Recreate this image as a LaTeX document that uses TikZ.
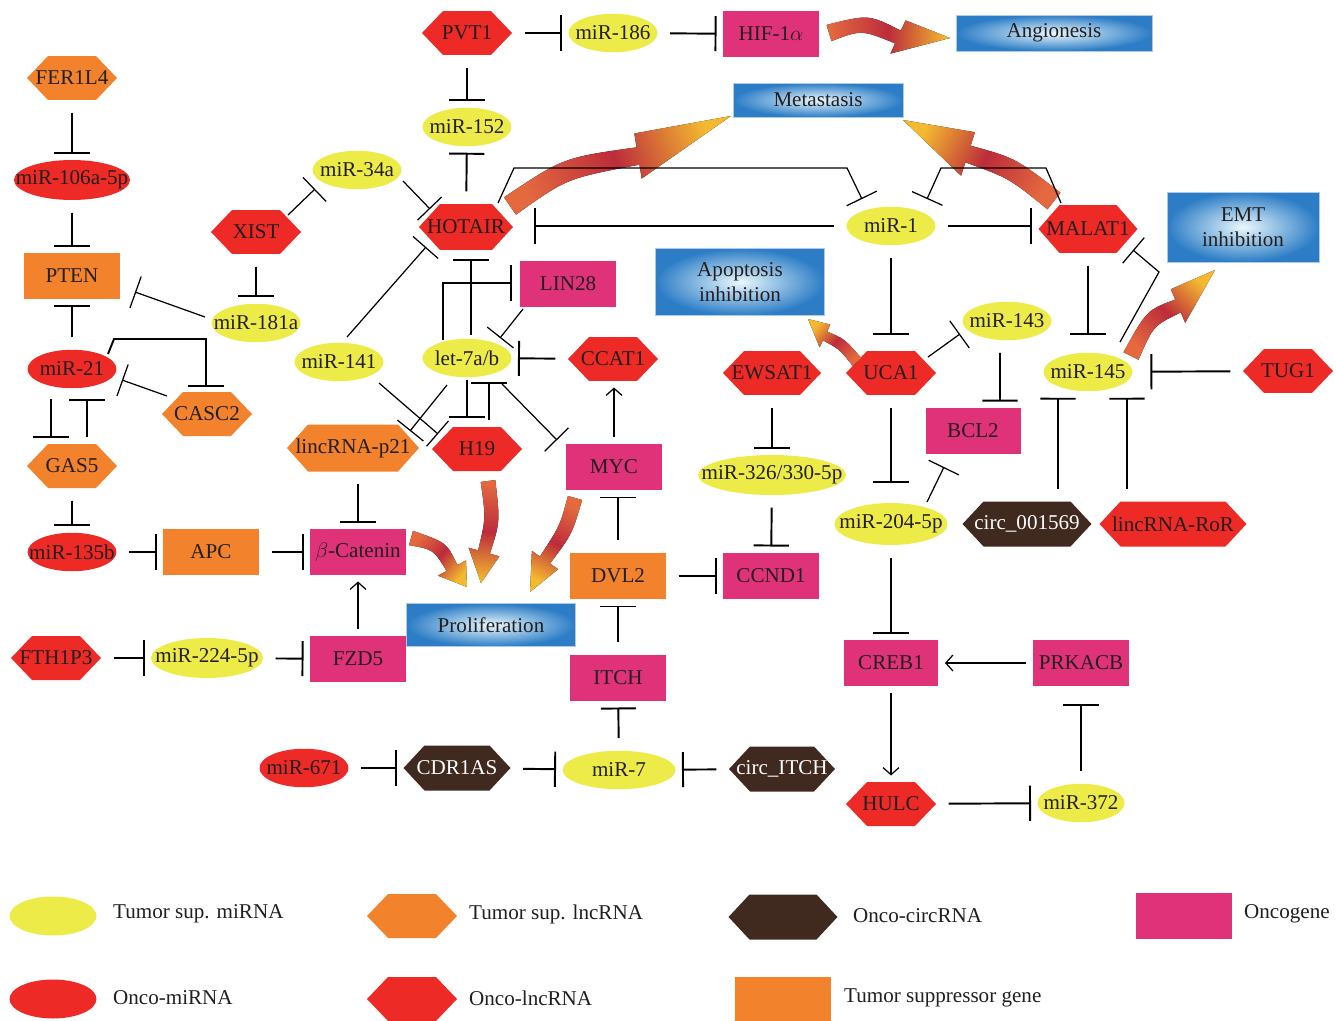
\documentclass[tikz,border=0pt]{standalone}
\usepackage{fontspec}
\setmainfont{Liberation Serif}
\usetikzlibrary{arrows.meta, shapes.geometric, calc}
\definecolor{mirsup}{HTML}{EDEB47}
\definecolor{oncored}{HTML}{EE2A27}
\definecolor{supor}{HTML}{F3822C}
\definecolor{oncomag}{HTML}{DF3278}
\definecolor{circbr}{HTML}{40291E}
\definecolor{inkdark}{HTML}{231F20}
\definecolor{boxhi}{HTML}{EAF8FD}
\definecolor{boxlo}{HTML}{2C7DC6}
\definecolor{swtail}{HTML}{E4693F}
\definecolor{swmid}{HTML}{BC2C3B}
\definecolor{swtip}{HTML}{F4B930}
% tail, control, head base, tip, shading angle, scale
\newcommand{\swooshto}[6]{%
  \fill[swoosh, shading angle=#5]
    ($#1!#6*6pt!90:#2$) .. controls ($#2!#6*6pt!90:#3$) .. ($#3!#6*5pt!-90:#2$)
    -- ($#3!#6*13pt!-90:#2$) -- #4 -- ($#3!#6*13pt!90:#2$)
    -- ($#3!#6*5pt!90:#2$) .. controls ($#2!#6*6pt!-90:#3$) .. ($#1!#6*6pt!-90:#2$)
    -- cycle;}

\begin{document}
\begin{tikzpicture}[
  x=0.02cm, y=-0.02cm,
  font=\fontsize{12}{14}\selectfont, text=inkdark,
  gene/.style={rectangle, inner sep=0pt, minimum width=1.92cm, minimum height=0.92cm},
  mirna/.style={rectangle, inner sep=0pt, minimum width=1.78cm, minimum height=0.77cm,
    path picture={\fill[#1] let \p1=(path picture bounding box.north east),
      \p2=(path picture bounding box.center) in
      (\p2) ellipse [x radius=\x1-\x2, y radius=\y1-\y2];}},
  lnc/.style={rectangle, inner sep=0pt, minimum width=1.8cm, minimum height=0.88cm,
    path picture={\fill[#1] (path picture bounding box.west)
      -- ([xshift=0.42cm]path picture bounding box.north west)
      -- ([xshift=-0.42cm]path picture bounding box.north east)
      -- (path picture bounding box.east)
      -- ([xshift=-0.42cm]path picture bounding box.south east)
      -- ([xshift=0.42cm]path picture bounding box.south west) -- cycle;}},
  tsmir/.style={mirna=mirsup},
  oncomir/.style={mirna=oncored},
  tslnc/.style={lnc=supor},
  oncolnc/.style={lnc=oncored},
  oncocirc/.style={lnc=circbr, text=white},
  oncogene/.style={gene, fill=oncomag},
  tsgene/.style={gene, fill=supor},
  outcome/.style={rectangle, inner color=boxhi, outer color=boxlo,
    draw=boxlo!40, line width=0.4pt, align=center, inner sep=0pt},
  inh/.style={-{Bar[width=20pt]}, line width=1.1pt, shorten <=7pt, shorten >=3.5pt},
  inhx/.style={-{Bar[width=19pt]}, line width=0.7pt},
  act/.style={-{Straight Barb[length=4pt,width=9pt]}, line width=0.7pt,
    shorten <=4pt, shorten >=3.5pt},
  swoosh/.style={top color=swtip, bottom color=swtail, middle color=swmid},
]
  \path[fill=white] (0,0) rectangle (1336,1021);
  \useasboundingbox (0,0) rectangle (1336,1021);

  %% Outcomes
  \node[outcome, minimum width=3.92cm, minimum height=0.72cm] (angio) at (1054,33) {Angionesis};
  \node[outcome, minimum width=3.4cm, minimum height=0.68cm] (metas) at (818,100) {Metastasis};
  \node[outcome, minimum width=3.04cm, minimum height=1.4cm] (emt) at (1243,227) {EMT\\inhibition};
  \node[outcome, minimum width=3.38cm, minimum height=1.34cm] (apop) at (740,282) {Apoptosis\\inhibition};
  \node[outcome, minimum width=3.38cm, minimum height=0.86cm] (prolif) at (491,625) {Proliferation};

  %% Top and left column
  \node[oncolnc] (pvt) at (467,33) {PVT1};
  \node[tsmir] (mir186) at (613,33) {miR-186};
  \node[oncogene] (hif) at (771,34) {HIF-1$\alpha$};
  \node[tslnc] (fer) at (72,78) {FER1L4};
  \node[oncomir, minimum width=2.32cm, minimum height=0.8cm] (mir106) at (72,180) {miR-106a-5p};
  \node[tsgene] (pten) at (72,276) {PTEN};
  \node[oncolnc] (xist) at (256,232) {XIST};
  \node[tsmir] (mir34) at (357,170) {miR-34a};
  \node[tsmir] (mir181) at (256,323) {miR-181a};
  \node[tsmir] (mir152) at (467,127) {miR-152};
  \node[oncolnc, minimum width=1.88cm, minimum height=0.92cm] (hotair) at (466,227) {HOTAIR};
  \node[oncomir] (mir21) at (72,369) {miR-21};
  \node[tslnc] (casc) at (207,414) {CASC2};
  \node[tslnc] (gas) at (72,466) {GAS5};
  \node[oncomir] (mir135) at (72,552) {miR-135b};
  \node[tsgene] (apc) at (211,552) {APC};
  \node[oncogene] (bcat) at (358,552) {$\beta$-Catenin};
  \node[oncolnc] (fth) at (56,658) {FTH1P3};
  \node[tsmir, minimum width=2.24cm, minimum height=0.8cm] (mir224) at (207,658) {miR-224-5p};
  \node[oncogene] (fzd) at (358,659) {FZD5};

  %% Centre
  \node[tsmir] (mir141) at (339,362) {miR-141};
  \node[tsmir] (let7) at (467,358) {let-7a/b};
  \node[oncogene] (lin) at (568,284) {LIN28};
  \node[oncolnc] (ccat) at (613,359) {CCAT1};
  \node[tslnc, minimum width=2.64cm, minimum height=0.94cm] (lincp) at (353,448) {lincRNA-p21};
  \node[oncolnc] (h19) at (477,449) {H19};
  \node[oncogene] (myc) at (614,467) {MYC};
  \node[tsgene] (dvl) at (618,576) {DVL2};
  \node[oncogene] (ccnd) at (771,576) {CCND1};
  \node[oncogene] (itch) at (618,678) {ITCH};
  \node[tsmir, minimum width=2.26cm] (mir7) at (619,770) {miR-7};
  \node[oncocirc, minimum width=2.14cm, minimum height=0.9cm] (cdr) at (457,768) {CDR1AS};
  \node[oncomir] (mir671) at (304,768) {miR-671};
  \node[oncocirc, minimum width=2.12cm, minimum height=0.9cm] (citch) at (782,769) {circ\_ITCH};

  %% Right side
  \node[tsmir] (mir1) at (891,226) {miR-1};
  \node[oncolnc, minimum width=1.98cm, minimum height=0.96cm] (malat) at (1088,229) {MALAT1};
  \node[oncolnc, minimum width=1.96cm] (ewsat) at (772,373) {EWSAT1};
  \node[oncolnc] (uca) at (891,373) {UCA1};
  \node[tsmir] (mir143) at (1007,321) {miR-143};
  \node[tsmir] (mir145) at (1088,372) {miR-145};
  \node[oncolnc] (tug) at (1288,371) {TUG1};
  \node[oncogene, minimum width=1.9cm] (bcl) at (973,431) {BCL2};
  \node[tsmir, minimum width=2.96cm, minimum height=0.8cm] (mir326) at (772,475) {miR-326/330-5p};
  \node[tsmir, minimum width=2.26cm, minimum height=0.84cm] (mir204) at (891,524) {miR-204-5p};
  \node[oncocirc, minimum width=2.58cm, minimum height=0.9cm] (circ) at (1027,524) {circ\_001569};
  \node[oncolnc, minimum width=2.94cm, minimum height=0.9cm] (lincror) at (1173,524) {lincRNA-RoR};
  \node[oncogene, minimum width=1.9cm] (creb) at (891,663) {CREB1};
  \node[oncogene] (prk) at (1081,663) {PRKACB};
  \node[oncolnc] (hulc) at (891,804) {HULC};
  \node[tsmir, minimum width=1.74cm] (mir372) at (1081,803) {miR-372};

  %% Outcome swooshes
  \swooshto{(829,33)}{(865,22)}{(898,37)}{(950,38)}{-93}{0.8}
  \swooshto{(510,206)}{(565,168)}{(638,156)}{(731,116)}{-68}{1}
  \swooshto{(1054,201)}{(1012,168)}{(968,154)}{(903,120)}{62}{1}
  \swooshto{(1131,356)}{(1150,318)}{(1178,306)}{(1215,270)}{-44}{0.8}
  \swooshto{(857,362)}{(842,344)}{(825,336)}{(808,319)}{49}{0.55}
  \swooshto{(411,538)}{(440,546)}{(452,568)}{(467,587)}{-131}{0.7}
  \swooshto{(488,481)}{(493,520)}{(484,552)}{(481,583)}{176}{0.7}
  \swooshto{(575,498)}{(566,530)}{(545,560)}{(530,592)}{154}{0.7}

  %% Inhibition, straight
  \draw[inh] (pvt) -- (mir186);
  \draw[inh] (mir186) -- (hif);
  \draw[inh] (pvt) -- (mir152);
  \draw[inh] (hotair) -- (mir152);
  \draw[inh] (fer) -- (mir106);
  \draw[inh] (mir106) -- (pten);
  \draw[inh] (mir21) -- (pten);
  \draw[inh] (xist) -- (mir181);
  \draw[inh] (gas) -- (mir135);
  \draw[inh] (mir135) -- (apc);
  \draw[inh] (apc) -- (bcat);
  \draw[inh] (fth) -- (mir224);
  \draw[inh] (mir224) -- (fzd);
  \draw[inh] (bcat |- lincp.south) -- (bcat.north);
  \draw[inh] (ccat) -- (let7);
  \draw[inh] (dvl) -- (dvl |- myc.south);
  \draw[inh] (dvl) -- (ccnd);
  \draw[inh] (itch) -- (dvl);
  \draw[inh] (mir7) -- (itch);
  \draw[inh] (mir671) -- (cdr);
  \draw[inh] (cdr) -- (mir7);
  \draw[inh] (citch) -- (mir7);
  \draw[inh, shorten >=12pt] (mir1.west) -- (mir1.west -| hotair.east);
  \draw[inh] (mir1.east) -- (mir1.east -| malat.west);
  \draw[inh, shorten >=10pt] (malat) -- (mir145);
  \draw[inh, shorten >=10pt] (tug) -- (mir145);
  \draw[inh, shorten >=9pt] (mir1) -- (uca);
  \draw[inh, shorten >=11pt] (uca) -- (mir204);
  \draw[inh] ([xshift=-0.14cm]mir143.south) -- ([xshift=0.54cm]bcl.north);
  \draw[inh] ([xshift=0.62cm]circ.north) -- ([xshift=-0.6cm]mir145.south);
  \draw[inh] ([xshift=-0.92cm]lincror.north) -- ([xshift=0.78cm]mir145.south);
  \draw[inh] (ewsat) -- (mir326);
  \draw[inh] (mir326) -- (ccnd);
  \draw[inh] (mir204) -- (creb);
  \draw[inh] (hulc) -- (mir372);
  \draw[inh, shorten >=10pt] (mir372) -- (prk);

  %% Inhibition, offset and bent
  \draw[inh, shorten <=0pt, shorten >=0pt] ([shift={(-21,30)}]mir21.center) -- ([shift={(-21,-28)}]gas.center);
  \draw[inh, shorten <=0pt, shorten >=0pt] ([shift={(15,-29)}]gas.center) -- ([shift={(15,30)}]mir21.center);
  \draw[inh, shorten <=0pt, shorten >=0pt] ([shift={(36,-15)}]mir21.center) -- ++(6,-15) -- ++(92,0) -- ([shift={(-1,-27)}]casc.center);
  \draw[inh, shorten <=0pt, shorten >=0pt] ([shift={(-24,-18)}]let7.center) -- ++(0,-57) -- ([shift={(-56,-1)}]lin.center);
  \draw[inh, shorten <=0pt, shorten >=0pt] ([shift={(4,-23)}]let7.center) -- ([shift={(5,32)}]hotair.center);
  \draw[inh, shorten <=0pt, shorten >=0pt] ([shift={(0,22)}]let7.center) -- ([shift={(-10,-31)}]h19.center);
  \draw[inh, shorten <=0pt, shorten >=0pt] ([shift={(12,-29)}]h19.center) -- ([shift={(22,24)}]let7.center);

  %% Inhibition, thin diagonals
  \draw[inhx] ([shift={(-51,-6)}]mir181.center) -- ([shift={(63,16)}]pten.center);
  \draw[inhx] ([shift={(32,-17)}]xist.center) -- ([shift={(-42,19)}]mir34.center);
  \draw[inhx] ([shift={(46,11)}]mir34.center) -- ([shift={(-36,-18)}]hotair.center);
  \draw[inhx] ([shift={(8,-25)}]mir141.center) -- ([shift={(-40,20)}]hotair.center);
  \draw[inhx] ([shift={(32,-24)}]hotair.center) -- ++(16,-35) -- ++(333,0) -- ([shift={(-29,-27)}]mir1.center);
  \draw[inhx] ([shift={(-27,-26)}]malat.center) -- ++(-15,-35) -- ++(-105,0) -- ([shift={(36,-27)}]mir1.center);
  \draw[inhx] ([shift={(32,-30)}]mir145.center) -- ++(39,-70) -- ([shift={(45,21)}]malat.center);
  \draw[inhx] ([shift={(37,-16)}]uca.center) -- ([shift={(-47,13)}]mir143.center);
  \draw[inhx] ([shift={(36,-22)}]mir204.center) -- ([shift={(-29,36)}]bcl.center);
  \draw[inhx] ([shift={(-45,25)}]lin.center) -- ([shift={(33,-20)}]let7.center);
  \draw[inhx] ([shift={(-20,27)}]let7.center) -- ([shift={(57,-17)}]lincp.center);
  \draw[inhx] ([shift={(40,21)}]mir141.center) -- ([shift={(-39,-15)}]h19.center);
  \draw[inhx] ([shift={(35,26)}]let7.center) -- ([shift={(-57,-27)}]myc.center);
  \draw[inhx] ([shift={(-40,-18)}]casc.center) -- ([shift={(50,11)}]mir21.center);

  %% Activation
  \draw[act] (myc) -- (myc |- ccat.south);
  \draw[act] (fzd) -- (bcat);
  \draw[act] (prk) -- (creb);
  \draw[act] (creb) -- (hulc);

  %% Legend
  \node[tsmir, minimum width=1.74cm, minimum height=0.78cm] (lgtsmir) at (53,916) {};
  \node[anchor=west] (txtsmir) at (107,914) {Tumor sup. miRNA};
  \node[oncomir, minimum width=1.74cm, minimum height=0.78cm] (lgoncomir) at (53,999) {};
  \node[anchor=west] (txoncomir) at (107,998) {Onco-miRNA};
  \node[tslnc] (lgtslnc) at (412,916) {};
  \node[anchor=west] (txtslnc) at (463,914) {Tumor sup. lncRNA};
  \node[oncolnc] (lgoncolnc) at (412,999) {};
  \node[anchor=west] (txoncolnc) at (463,998) {Onco-lncRNA};
  \node[oncocirc, minimum width=2.18cm, minimum height=0.9cm] (lgcirc) at (783,917) {};
  \node[anchor=west] (txcirc) at (847,916) {Onco-circRNA};
  \node[tsgene, minimum height=0.88cm] (lgtsgene) at (783,999) {};
  \node[anchor=west] (txtsgene) at (838,998) {Tumor suppressor gene};
  \node[oncogene] (lgonco) at (1184,916) {};
  \node[anchor=west] (txonco) at (1238,914) {Oncogene};
\end{tikzpicture}
\end{document}
